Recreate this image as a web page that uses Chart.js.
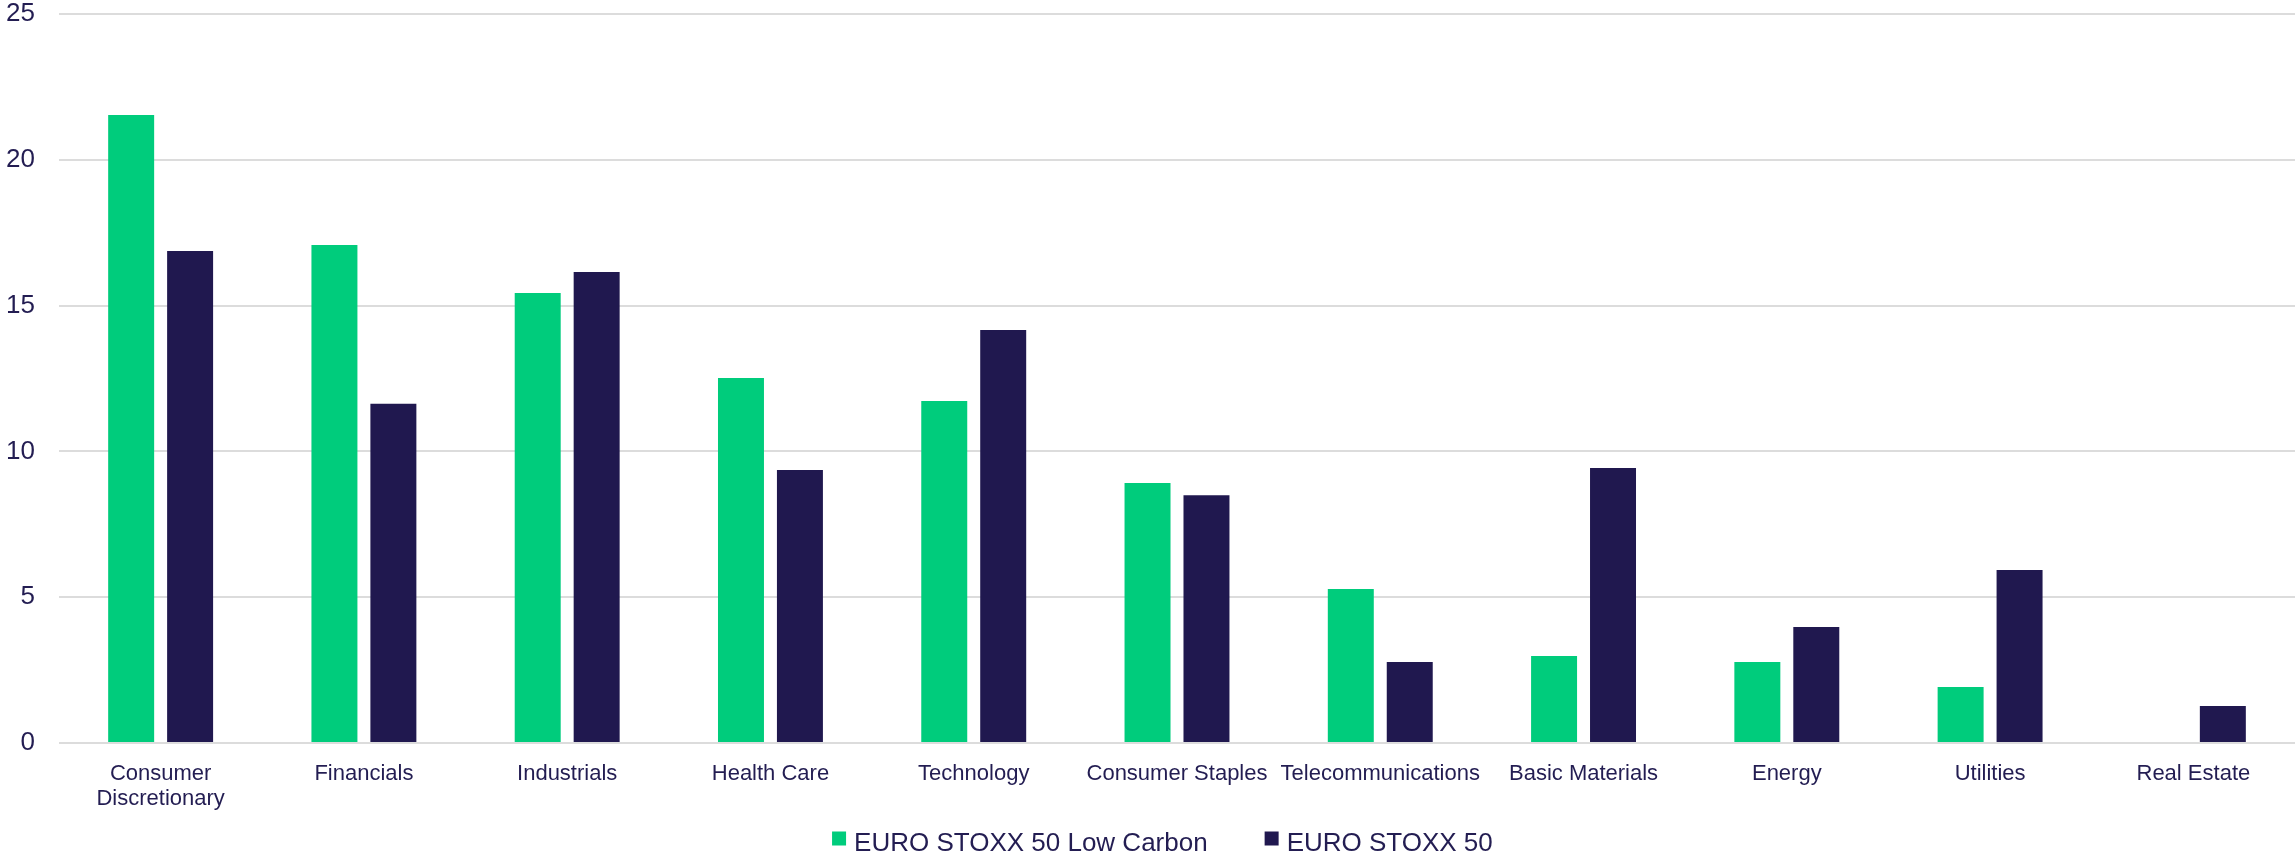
<!DOCTYPE html>
<html>
<head>
<meta charset="utf-8">
<script src="https://cdn.jsdelivr.net/npm/chart.js@4.4.0/dist/chart.umd.min.js"></script>
<style>
    html, body { margin: 0; padding: 0; background: #ffffff; }
    #chart-sektor { display: block; }
</style>
</head>
<body>
<canvas id="chart-sektor" width="2295" height="855"></canvas>
<script>
const sektorLabels = [
    ["Consumer", "Discretionary"],
    "Financials",
    "Industrials",
    "Health Care",
    "Technology",
    "Consumer Staples",
    "Telecommunications",
    "Basic Materials",
    "Energy",
    "Utilities",
    "Real Estate",
];
const lowCarbonWeights = [21.54, 17.08, 15.43, 12.52, 11.73, 8.92, 5.28, 2.98, 2.78, 1.92, 0];
const stoxx50Weights = [16.87, 11.63, 16.15, 9.36, 14.16, 8.50, 2.78, 9.43, 3.98, 5.93, 1.27];
const yTicks = [0, 5, 10, 15, 20, 25];

const GREEN = "#00cc7c";
const NAVY = "#20184f";
const TEXT = "#231d52";
const GRID = "#dcdcdc";
const FONT = "'Liberation Sans', Arial, sans-serif";

// legend di bawah grafik
const bottomLegend = {
    id: "bottomLegend",
    afterDraw(chart) {
        const ctx = chart.ctx;
        const box = 14;
        const gapText = 22;
        const gapItem = 57;
        ctx.save();
        ctx.font = "26px " + FONT;
        const items = chart.data.datasets.map((ds) => ({
            text: ds.label,
            color: ds.backgroundColor,
            w: ctx.measureText(ds.label).width,
        }));
        let total = 0;
        items.forEach((it, i) => {
            total += gapText + it.w + (i < items.length - 1 ? gapItem : 0);
        });
        const centerX = chart.width * 0.5065;
        const baseline = chart.height - 4.5;
        let x = centerX - total / 2;
        items.forEach((it) => {
            ctx.fillStyle = it.color;
            ctx.fillRect(x, baseline - 19, box, box);
            ctx.fillStyle = TEXT;
            ctx.textBaseline = "alphabetic";
            ctx.fillText(it.text, x + gapText, baseline);
            x += gapText + it.w + gapItem;
        });
        ctx.restore();
    },
};

const dataSektor = {
    labels: sektorLabels,
    datasets: [
        {
            label: "EURO STOXX 50 Low Carbon",
            data: lowCarbonWeights,
            backgroundColor: GREEN,
            borderWidth: 0,
            categoryPercentage: 0.58,
            barPercentage: 0.78,
        },
        {
            label: "EURO STOXX 50",
            data: stoxx50Weights,
            backgroundColor: NAVY,
            borderWidth: 0,
            categoryPercentage: 0.58,
            barPercentage: 0.78,
        },
    ],
};

const configSektor = {
    type: "bar",
    data: dataSektor,
    plugins: [bottomLegend],
    options: {
        responsive: false,
        animation: false,
        layout: {
            padding: { top: 14, right: 0, bottom: 0, left: 0 },
        },
        plugins: {
            legend: { display: false },
            tooltip: { enabled: false },
        },
        scales: {
            x: {
                grid: { display: false },
                border: { display: false },
                ticks: {
                    color: TEXT,
                    padding: 11,
                    maxRotation: 0,
                    autoSkip: false,
                    font: { family: FONT, size: 22, lineHeight: 1.11 },
                },
                afterFit: (scale) => {
                    scale.height = 112;
                    scale.paddingLeft = 0;
                    scale.paddingRight = 0;
                },
            },
            y: {
                min: yTicks[0],
                max: yTicks[yTicks.length - 1],
                afterBuildTicks: (scale) => {
                    scale.ticks = yTicks.map((v) => ({ value: v }));
                },
                border: { display: false },
                grid: {
                    color: GRID,
                    lineWidth: 2,
                    drawTicks: false,
                },
                ticks: {
                    color: TEXT,
                    padding: 24,
                    font: { family: FONT, size: 26 },
                },
                afterFit: (scale) => {
                    scale.width = 59;
                    scale.paddingTop = 0;
                    scale.paddingBottom = 0;
                },
            },
        },
    },
};

new Chart(document.getElementById("chart-sektor"), configSektor);
</script>
</body>
</html>
